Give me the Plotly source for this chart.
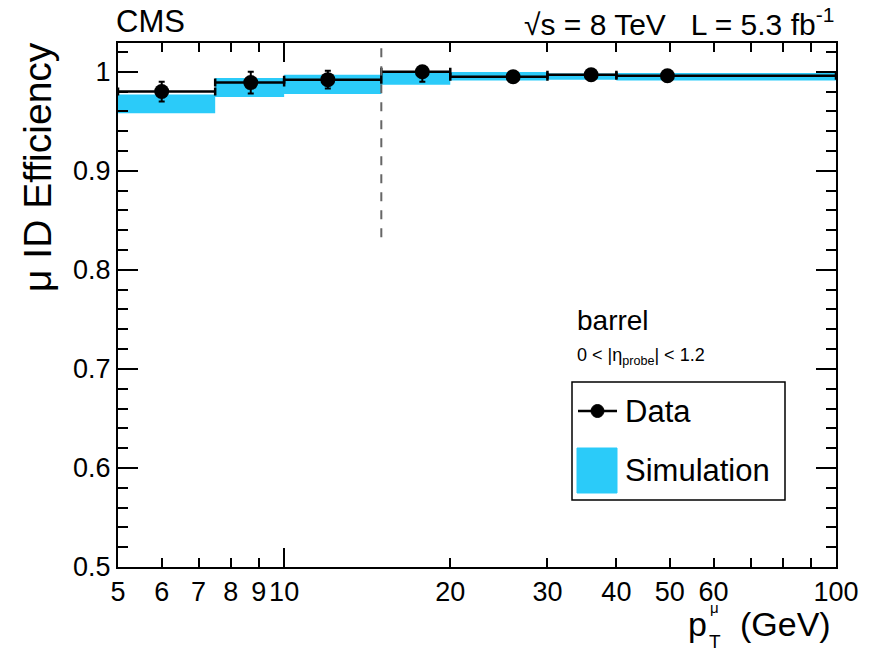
import plotly.graph_objects as go
import numpy as np

# ---- data ----
bin_edges = [5, 7.5, 10, 15, 20, 30, 40, 100]
data_x = [6.0, 8.7, 12.0, 17.8, 26.0, 36.0, 49.5]
data_eff = [0.980, 0.989, 0.992, 1.000, 0.995, 0.997, 0.996]
data_err_up = [0.010, 0.011, 0.009, 0.002, 0.002, 0.002, 0.002]
data_err_dn = [0.010, 0.011, 0.009, 0.010, 0.002, 0.002, 0.002]
mc_eff = [0.9675, 0.9840, 0.9873, 0.9928, 0.9955, 0.9950, 0.9950]
mc_err = [0.0095, 0.0096, 0.0097, 0.0060, 0.0043, 0.0032, 0.0038]
x_tick_vals = [5, 6, 7, 8, 9, 10, 20, 30, 40, 50, 60, 100]
x_minor_vals = [70, 80, 90]
y_tick_vals = [0.5, 0.6, 0.7, 0.8, 0.9, 1.0]
y_tick_text = ["0.5", "0.6", "0.7", "0.8", "0.9", "1"]
barrel_split = 15
split_line_low = 0.833

FONT = "Liberation Sans, Arial, Helvetica, sans-serif"
CYAN = "#2BCBF9"
W, H = 879, 654
L, R, T, B = 118, 43, 43, 87
PW, PH = W - L - R, H - T - B


def px(xp):
    return (xp - L) / PW


def py(yp):
    return (H - B - yp) / PH


lo = bin_edges[:-1]
hi = bin_edges[1:]

# MC boxes
bx, by = [], []
for a, b, c, e in zip(lo, hi, mc_eff, mc_err):
    bx += [a, b, b, a, a, None]
    by += [c - e, c - e, c + e, c + e, c - e, None]

fig = go.Figure()
fig.add_trace(go.Scatter(x=bx, y=by, fill="toself", fillcolor=CYAN,
                         line=dict(width=0, color=CYAN), mode="lines",
                         showlegend=False, hoverinfo="skip"))

fig.add_trace(go.Scatter(
    x=data_x, y=data_eff, mode="markers",
    marker=dict(color="black", size=15),
    error_x=dict(type="data", symmetric=False,
                 array=[h - x for h, x in zip(hi, data_x)],
                 arrayminus=[x - l for x, l in zip(data_x, lo)],
                 color="black", thickness=2.5, width=4),
    error_y=dict(type="data", symmetric=False, array=data_err_up,
                 arrayminus=data_err_dn, color="black", thickness=2, width=3),
    showlegend=False))

# overlay axis for long ticks
fig.add_trace(go.Scatter(x=[None], y=[None], xaxis="x2", yaxis="y",
                         showlegend=False, hoverinfo="skip"))

xr = [np.log10(bin_edges[0]), np.log10(bin_edges[-1])]
yr = [0.5, 1.029]

fig.update_layout(
    width=W, height=H, margin=dict(l=L, r=R, t=T, b=B),
    paper_bgcolor="white", plot_bgcolor="white",
    font=dict(family=FONT, color="black", size=27),
    xaxis=dict(type="log", range=xr, tickmode="array", tickvals=x_tick_vals,
               ticktext=[str(v) for v in x_tick_vals], ticks="inside",
               ticklen=9, tickwidth=1.5, tickcolor="black",
               showline=True, linecolor="black", linewidth=2, mirror="ticks",
               showgrid=False, zeroline=False,
               tickfont=dict(size=27, family=FONT),
               minor=dict(tickmode="array", tickvals=x_minor_vals,
                          ticks="inside", ticklen=9, tickwidth=1.5,
                          tickcolor="black", showgrid=False)),
    xaxis2=dict(type="log", range=xr, overlaying="x", anchor="y",
                side="bottom", tickmode="array", tickvals=[10, 100],
                ticks="inside", ticklen=19, tickwidth=1.5, tickcolor="black",
                showticklabels=False, showline=True, linecolor="black",
                linewidth=2, mirror="ticks", showgrid=False, zeroline=False),
    yaxis=dict(range=yr, tickmode="array", tickvals=y_tick_vals,
               ticktext=y_tick_text, ticks="inside", ticklen=20,
               tickwidth=1.5, tickcolor="black", showline=True,
               linecolor="black", linewidth=2, mirror="ticks",
               showgrid=False, zeroline=False,
               tickfont=dict(size=27, family=FONT),
               minor=dict(dtick=0.02, tick0=0.5, ticks="inside", ticklen=10,
                          tickwidth=1.5, tickcolor="black", showgrid=False)),
)

shapes = []
# dashed barrel divider
shapes.append(dict(type="line", xref="x", yref="y", x0=barrel_split,
                   x1=barrel_split, y0=split_line_low, y1=yr[1],
                   line=dict(color="#666666", width=2, dash="dash")))
# legend box
shapes.append(dict(type="rect", xref="paper", yref="paper",
                   x0=px(572), x1=px(785), y0=py(500), y1=py(382),
                   line=dict(color="black", width=1.5), fillcolor="white",
                   layer="above"))
shapes.append(dict(type="line", xref="paper", yref="paper",
                   x0=px(578), x1=px(617), y0=py(411), y1=py(411),
                   line=dict(color="black", width=2.5)))
shapes.append(dict(type="circle", xref="paper", yref="paper",
                   x0=px(591), x1=px(604), y0=py(417.5), y1=py(404.5),
                   fillcolor="black", line=dict(color="black", width=1)))
shapes.append(dict(type="rect", xref="paper", yref="paper",
                   x0=px(577), x1=px(617), y0=py(493), y1=py(448),
                   fillcolor=CYAN, line=dict(color=CYAN, width=1)))
fig.update_layout(shapes=shapes)

ann = []


def A(text, x, y, size, xanchor="left", yanchor="middle", angle=0):
    ann.append(dict(text=text, x=px(x), y=py(y), xref="paper", yref="paper",
                    showarrow=False, xanchor=xanchor, yanchor=yanchor,
                    textangle=angle, font=dict(size=size, family=FONT,
                                               color="black")))


A("CMS", 114, 22, 31)
A("√s = 8 TeV   L = 5.3 fb<sup>-1</sup>", 836, 22, 30, xanchor="right")
A("μ ID Efficiency", 38, 40, 39, xanchor="center", yanchor="top", angle=-90)
A("p", 686, 624, 34)
A("μ", 708, 607, 15)
A("T", 707, 641, 19)
A("(GeV)", 833, 624, 34, xanchor="right")
A("barrel", 575, 320, 28)
A("0 < |η<sub>probe</sub>| < 1.2", 575, 356, 18)
A("Data", 623, 412, 31)
A("Simulation", 623, 470, 31)
fig.update_layout(annotations=ann)

fig.write_html("out.html", config={"displayModeBar": False},
               post_script="document.body.style.margin='0';"
                           "document.body.style.padding='0';")
